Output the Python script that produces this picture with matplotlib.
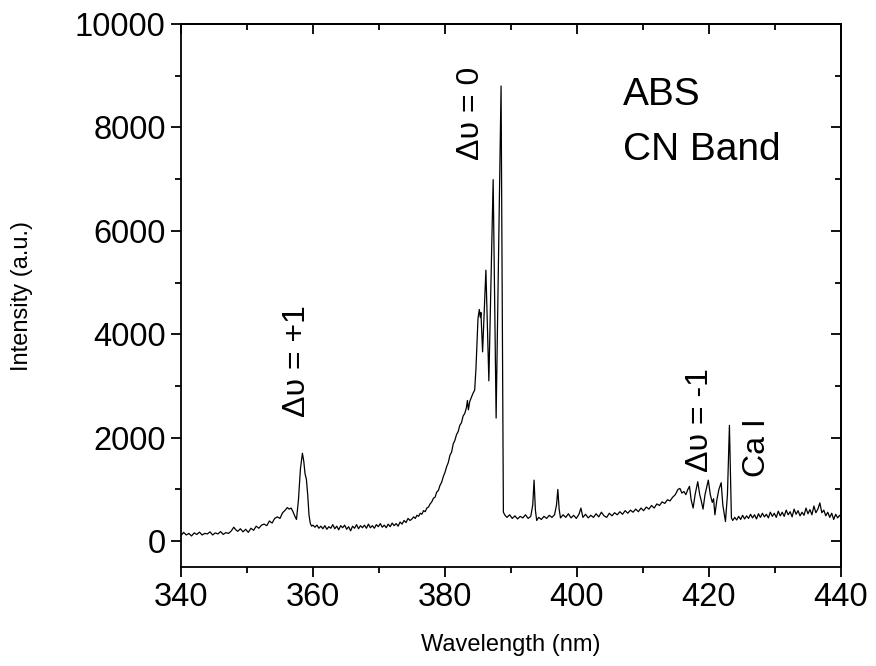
import matplotlib
matplotlib.use("Agg")
import matplotlib.pyplot as plt
from matplotlib.ticker import MultipleLocator

plt.rcParams['font.family'] = ['Liberation Sans', 'DejaVu Sans']

# Emission spectrum of ABS showing the CN violet band sequences (nm, a.u.)
nm_plus1 = [340.0, 340.4, 340.8, 341.2, 341.6, 342.0, 342.4, 342.8, 343.2, 343.6,
            344.0, 344.4, 344.8, 345.2, 345.6, 346.0, 346.4, 346.8, 347.2, 347.6,
            348.0, 348.3, 348.6, 349.0, 349.4, 349.8, 350.2, 350.6, 351.0, 351.4,
            351.8, 352.2, 352.6, 353.0, 353.4, 353.8, 354.2, 354.6, 355.0, 355.4,
            355.8, 356.1, 356.4, 356.7, 357.0, 357.3, 357.5, 357.8, 358.1, 358.4,
            358.6, 358.8, 359.0, 359.2, 359.4, 359.6, 359.8, 360.0]
int_plus1 = [110, 170, 120, 150, 100, 160, 130, 175, 120, 150,
             140, 180, 120, 160, 140, 185, 130, 165, 150, 195,
             270, 220, 190, 240, 180, 230, 170, 250, 210, 290,
             250, 310, 330, 300, 390, 350, 440, 470, 440, 550,
             600, 650, 620, 640, 560, 470, 420, 800, 1400, 1700,
             1550, 1300, 1200, 900, 500, 340, 290, 310]

nm_gap = [360.3, 360.6, 360.9, 361.2, 361.5, 361.8, 362.1, 362.4, 362.7, 363.0,
          363.3, 363.6, 363.9, 364.2, 364.5, 364.8, 365.1, 365.4, 365.7, 366.0,
          366.3, 366.6, 366.9, 367.2, 367.5, 367.8, 368.1, 368.4, 368.7, 369.0,
          369.3, 369.6, 369.9, 370.2, 370.5, 370.8, 371.1, 371.4, 371.7, 372.0,
          372.3, 372.6, 372.9, 373.2, 373.5, 373.8, 374.1, 374.4, 374.7]
int_gap = [270, 310, 250, 290, 240, 300, 230, 280, 250, 320,
           240, 290, 220, 300, 260, 310, 230, 280, 200, 290,
           250, 320, 240, 300, 260, 310, 250, 330, 260, 300,
           250, 320, 280, 340, 270, 310, 260, 330, 280, 350,
           300, 340, 290, 370, 330, 400, 360, 440, 400]

nm_zero = [375.0, 375.25, 375.5, 375.75, 376.0, 376.25, 376.5, 376.75, 377.0, 377.25,
           377.5, 377.75, 378.0, 378.25, 378.5, 378.75, 379.0, 379.25, 379.5, 379.75,
           380.0, 380.25, 380.5, 380.75, 381.0, 381.25, 381.5, 381.75, 382.0, 382.25,
           382.5, 382.75, 383.0, 383.25, 383.4, 383.55, 383.75, 384.0, 384.25, 384.5,
           384.7, 385.0, 385.2, 385.35, 385.45, 385.7, 386.2, 386.65, 387.3, 387.75,
           388.5, 388.85, 389.1]
int_zero = [430, 470, 440, 500, 480, 540, 520, 590, 570, 640,
            660, 720, 760, 830, 850, 950, 980, 1080, 1140, 1250,
            1330, 1440, 1520, 1660, 1720, 1880, 1950, 2060, 2120, 2240,
            2290, 2420, 2470, 2580, 2720, 2540, 2700, 2780, 2860, 2920,
            3350, 4300, 4480, 4330, 4420, 3660, 5240, 3100, 6990, 2380,
            8800, 560, 500]

nm_mid = [389.4, 389.8, 390.2, 390.6, 391.0, 391.4, 391.8, 392.2, 392.6, 393.0,
          393.3, 393.5, 393.7, 393.9, 394.2, 394.6, 395.0, 395.4, 395.8, 396.2,
          396.6, 396.9, 397.1, 397.3, 397.5, 397.9, 398.3, 398.7, 399.1, 399.5,
          399.9, 400.3, 400.6, 400.9, 401.3, 401.7, 402.1, 402.5, 402.9, 403.3,
          403.7, 404.1, 404.5, 404.9, 405.3, 405.7, 406.1, 406.5, 406.9, 407.3,
          407.7, 408.1, 408.5, 408.9, 409.3, 409.7, 410.1, 410.5, 410.9, 411.3,
          411.7, 412.1, 412.5, 412.9, 413.3, 413.7, 414.1, 414.5, 414.9]
int_mid = [460, 510, 440, 490, 430, 480, 450, 510, 440, 480,
           700, 1180, 600, 400, 460, 420, 480, 440, 500, 460,
           510, 700, 1000, 620, 450, 510, 460, 530, 450, 500,
           440, 520, 640, 460, 520, 450, 500, 460, 530, 470,
           560, 490, 460, 540, 490, 550, 510, 570, 520, 590,
           540, 600, 560, 620, 570, 640, 590, 660, 620, 690,
           640, 720, 690, 760, 730, 800, 780, 850, 900]

nm_minus1 = [415.3, 415.6, 415.9, 416.2, 416.5, 416.8, 417.05, 417.3, 417.6, 417.9,
             418.3, 418.6, 418.8, 419.1, 419.4, 419.9, 420.2, 420.5, 420.7, 420.9,
             421.2, 421.5, 421.85, 422.1, 422.5, 422.8, 423.1, 423.4, 423.6]
int_minus1 = [1000, 1020, 930, 960, 900, 1000, 1060, 800, 640, 900,
              1150, 900, 800, 620, 900, 1180, 900, 750, 820, 510,
              800, 1000, 1130, 700, 380, 900, 2240, 450, 400]

nm_tail = [423.9, 424.2, 424.5, 424.8, 425.1, 425.4, 425.7, 426.0, 426.3, 426.6,
           426.9, 427.2, 427.5, 427.8, 428.1, 428.4, 428.7, 429.0, 429.3, 429.6,
           429.9, 430.2, 430.5, 430.8, 431.1, 431.4, 431.7, 432.0, 432.3, 432.6,
           432.9, 433.2, 433.5, 433.8, 434.1, 434.4, 434.7, 435.0, 435.3, 435.6,
           435.9, 436.2, 436.5, 436.8, 437.1, 437.4, 437.7, 438.0, 438.3, 438.6,
           438.9, 439.2, 439.5, 439.8, 440.0]
int_tail = [460, 410, 480, 420, 500, 430, 490, 440, 520, 450,
            510, 430, 530, 460, 540, 470, 520, 450, 560, 480,
            540, 460, 580, 490, 560, 480, 600, 510, 570, 470,
            620, 520, 590, 490, 560, 500, 640, 530, 610, 510,
            680, 550, 620, 740, 550, 600, 490, 560, 460, 540,
            420, 520, 450, 500, 470]

wavelength = nm_plus1 + nm_gap + nm_zero + nm_mid + nm_minus1 + nm_tail
intensity = int_plus1 + int_gap + int_zero + int_mid + int_minus1 + int_tail

fig = plt.figure(figsize=(8.76, 6.66), dpi=100)
ax = fig.add_axes([0.2066, 0.1486, 0.7534, 0.8154])
ax.plot(wavelength, intensity, color='black', lw=0.9)

ax.set_xlim(340, 440)
ax.set_ylim(-500, 10000)
ax.xaxis.set_major_locator(MultipleLocator(20))
ax.xaxis.set_minor_locator(MultipleLocator(10))
ax.yaxis.set_major_locator(MultipleLocator(2000))
ax.yaxis.set_minor_locator(MultipleLocator(1000))

for s in ax.spines.values():
    s.set_linewidth(1.3)

ax.tick_params(which='both', direction='out', top=False, right=False,
               width=1.3, labelsize=23.5, pad=4)
ax.tick_params(which='major', length=7)
ax.tick_params(which='minor', length=4.5)

# inward ticks on the top and right frame edges
sec_x = ax.secondary_xaxis('top')
sec_x.xaxis.set_major_locator(MultipleLocator(20))
sec_x.xaxis.set_minor_locator(MultipleLocator(10))
sec_x.tick_params(which='both', direction='in', labeltop=False, width=1.3)
sec_x.tick_params(which='major', length=7)
sec_x.tick_params(which='minor', length=4.5)
sec_y = ax.secondary_yaxis('right')
sec_y.yaxis.set_major_locator(MultipleLocator(2000))
sec_y.yaxis.set_minor_locator(MultipleLocator(1000))
sec_y.tick_params(which='both', direction='in', labelright=False, width=1.3)
sec_y.tick_params(which='major', length=7)
sec_y.tick_params(which='minor', length=4.5)
sec_x.spines['top'].set_linewidth(1.3)
sec_y.spines['right'].set_linewidth(1.3)

ax.set_xlabel('Wavelength (nm)', fontsize=17, labelpad=15)
ax.set_ylabel('Intensity (a.u.)', fontsize=17, labelpad=30)

ax.text(407, 8437, 'ABS', fontsize=28, ha='left', va='baseline')
ax.text(407, 7372, 'CN Band', fontsize=28, ha='left', va='baseline')

ax.text(384.0, 7370, 'Δυ = 0', fontsize=23, rotation=90, ha='center', va='bottom')
ax.text(357.6, 2400, 'Δυ = +1', fontsize=23, rotation=90, ha='center', va='bottom')
ax.text(418.6, 1330, 'Δυ = -1', fontsize=23, rotation=90, ha='center', va='bottom')
ax.text(427.3, 1240, 'Ca I', fontsize=23, rotation=90, ha='center', va='bottom')

fig.savefig('out.png', dpi=100)
